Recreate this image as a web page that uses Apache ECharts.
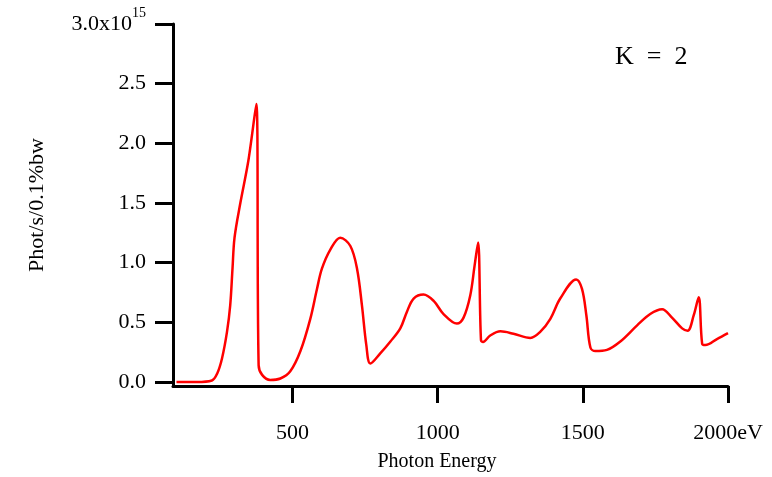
<!DOCTYPE html>
<html>
<head>
<meta charset="utf-8">
<script src="https://cdn.jsdelivr.net/npm/echarts@6/dist/echarts.min.js"></script>
<style>
html,body{margin:0;padding:0;background:#fff;}
#chart{width:772px;height:477px;}
</style>
</head>
<body>
<div id="chart"></div>
<script>
// Photon energy (eV)
var energy = [100,170,222,240,257,274,285,293,300,320,348,375,383,395,423,458,492,527,561,584,601,630,664,699,722,739,754,768,802,837,871,894,917,951,986,1020,1066,1089,1112,1127,1139,1149,1156,1181,1216,1261,1319,1353,1388,1422,1477,1497,1512,1526,1543,1583,1629,1687,1732,1773,1807,1842,1861,1882,1899,1911,1922,1962,2000];
// Flux in units of 1e15 phot/s/0.1%bw
var flux = [0.0,0.0,0.013,0.07,0.2,0.42,0.64,0.95,1.21,1.50,1.86,2.33,0.14,0.06,0.017,0.03,0.09,0.26,0.53,0.78,0.95,1.11,1.21,1.14,0.95,0.64,0.31,0.155,0.24,0.34,0.45,0.59,0.70,0.733,0.68,0.57,0.49,0.54,0.725,0.975,1.17,0.35,0.336,0.39,0.425,0.405,0.37,0.42,0.53,0.70,0.86,0.78,0.56,0.29,0.26,0.27,0.34,0.475,0.57,0.61,0.54,0.45,0.43,0.56,0.71,0.32,0.31,0.36,0.41];
var xTicks = [500,1000,1500,2000];
var yTicks = [0,0.5,1.0,1.5,2.0,2.5,3.0];
var xUnit = 'eV';
var yExponent = '15';
var xTitle = 'Photon Energy';
var yTitle = 'Phot/s/0.1%bw';
var annotation = 'K  =  2';

var seriesData = energy.map(function(e,i){return [e, flux[i]];});
var FONT = '"Liberation Serif", "Times New Roman", serif';

var chart = echarts.init(document.getElementById('chart'), null, {renderer:'canvas'});
chart.setOption({
  animation:false,
  backgroundColor:'#ffffff',
  grid:{left:173, right:44, top:24, bottom:88, containLabel:false},
  xAxis:{
    type:'value', min:88, max:2000,
    axisLine:{onZero:false, lineStyle:{color:'#000', width:3}},
    axisTick:{show:true, customValues:xTicks, length:17, lineStyle:{color:'#000', width:3}},
    axisLabel:{customValues:xTicks, margin:36, color:'#000', fontFamily:FONT, fontSize:22,
      formatter:function(v){return v===2000 ? v+xUnit : String(v);}},
    splitLine:{show:false},
    name:xTitle, nameLocation:'middle', nameGap:66,
    nameTextStyle:{color:'#000', fontFamily:FONT, fontSize:20, padding:[0,27,0,0]}
  },
  yAxis:{
    type:'value', min:-0.033, max:3.0,
    axisLine:{onZero:false, lineStyle:{color:'#000', width:3}},
    axisTick:{show:true, customValues:yTicks, length:18, lineStyle:{color:'#000', width:3}},
    axisLabel:{customValues:yTicks, margin:27, color:'#000', fontFamily:FONT, fontSize:22,
      formatter:function(v){
        if (v===3) return '{b|3.0x10}{s|'+yExponent+'}';
        return '{b|'+v.toFixed(1)+'}';
      },
      rich:{
        b:{fontFamily:FONT, fontSize:22, lineHeight:36, color:'#000'},
        s:{fontFamily:FONT, fontSize:14, lineHeight:14, verticalAlign:'top', color:'#000'}
      }
    },
    splitLine:{show:false},
    name:yTitle, nameLocation:'middle', nameGap:125, nameRotate:90,
    nameTextStyle:{color:'#000', fontFamily:FONT, fontSize:22}
  },
  graphic:[{
    type:'text', left:615, top:44,
    style:{text:annotation, fontFamily:FONT, fontSize:26, fill:'#000'}
  }],
  series:[{
    type:'line', data:seriesData, showSymbol:false, smooth:0.35,
    lineStyle:{color:'#ff0000', width:2.5}, itemStyle:{color:'#ff0000'}
  }]
});
</script>
</body>
</html>
